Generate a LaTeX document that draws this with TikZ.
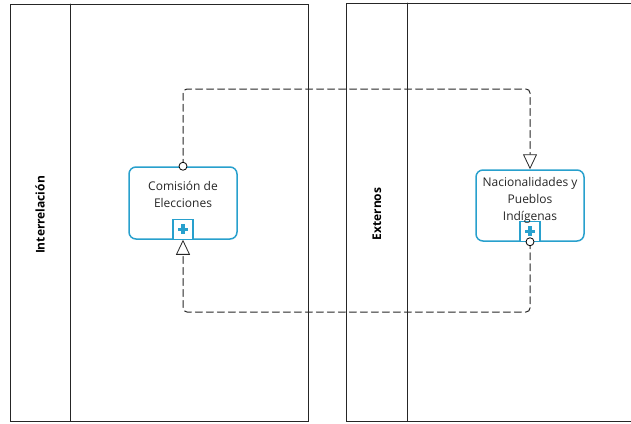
\documentclass[tikz,border=0pt]{standalone}
\usepackage{fontspec}
\setmainfont{Open Sans}
\usetikzlibrary{arrows.meta, calc}

\begin{document}
\begin{tikzpicture}[%
        x = 1pt,
        y = -1pt,
        line width = 0.8pt,
        line cap = round,
        lanetitle/.style = {rotate = 90, font = \bfseries\fontsize{12}{14}\selectfont},
        tasktext/.style = {align = center, font = \fontsize{12}{17}\selectfont, text = black!85},
        msgflow/.style = {%
            draw = black!85,
            dash pattern = on 7pt off 4pt,
            rounded corners = 4pt,
            line width = 1pt,
            -{Triangle[open, length = 15pt, width = 14pt, fill = white, line width = 0.8pt]}
        }
    ]

        \begingroup

            % Color for the tasks.
            \definecolor{tcolor}{RGB}{40,160,205}

            % Fix the size of the page.
            \useasboundingbox (0,0) rectangle (631,423);

            % Coordinates
            \coordinate (C) at (183,203);
            \coordinate (N) at (530,205.5);
            \coordinate (top) at (0,89);
            \coordinate (bot) at (0,312);

            % Draw the two pools with their lanes.
            \draw[black!85] (10,4) rectangle (308,421);
            \draw[black!85] (70,4) -- (70,421);
            \draw[black!85] (631,3) -- (346,3) -- (346,421) -- (631,421);
            \draw[black!85] (407,3) -- (407,421);

            % Lane titles.
            \node[lanetitle] (lint) at (40,215) {Interrelación};
            \node[lanetitle] (lext) at (377,214) {Externos};

            % Draw the tasks.
            \begin{scope}[line width = 1.5pt]
                \node[draw = tcolor, rounded corners = 7pt, minimum width = 108pt,
                      minimum height = 72pt] (com) at (C) {};
                \node[draw = tcolor, rounded corners = 7pt, minimum width = 108pt,
                      minimum height = 71pt] (nac) at (N) {};

                \node[draw = tcolor, line width = 1.2pt, fill = white, minimum size = 20pt,
                      inner sep = 0pt, anchor = south] (comsub) at (com.south) {};
                \node[draw = tcolor, line width = 1.2pt, fill = white, minimum size = 20pt,
                      inner sep = 0pt, anchor = south] (nacsub) at (nac.south) {};
            \end{scope}

            % Plus markers.
            \foreach \s in {comsub, nacsub} {
                \draw[tcolor, line width = 3.2pt, line cap = butt]
                    ($(\s.center)+(-5,0)$) -- ($(\s.center)+(5,0)$)
                    ($(\s.center)+(0,-5)$) -- ($(\s.center)+(0,5)$);
            }

            % Task labels.
            \node[tasktext] (comtxt) at (183,194) {Comisión de\\Elecciones};
            \node[tasktext] (nactxt) at (530,200) {Nacionalidades y\\Pueblos\\Indígenas};

            % Draw the message flows.
            \draw[msgflow] (com.north) |- (top -| nac.north) -- (nac.north);
            \draw[msgflow] (nac.south) |- (bot -| com.south) -- (com.south);

            % Circles at the start of the flows.
            \draw[fill = white, line width = 0.8pt] (com.north) circle (4pt);
            \draw[fill = white, line width = 0.8pt] (nac.south) circle (4pt);
        \endgroup
    \end{tikzpicture}
\end{document}
